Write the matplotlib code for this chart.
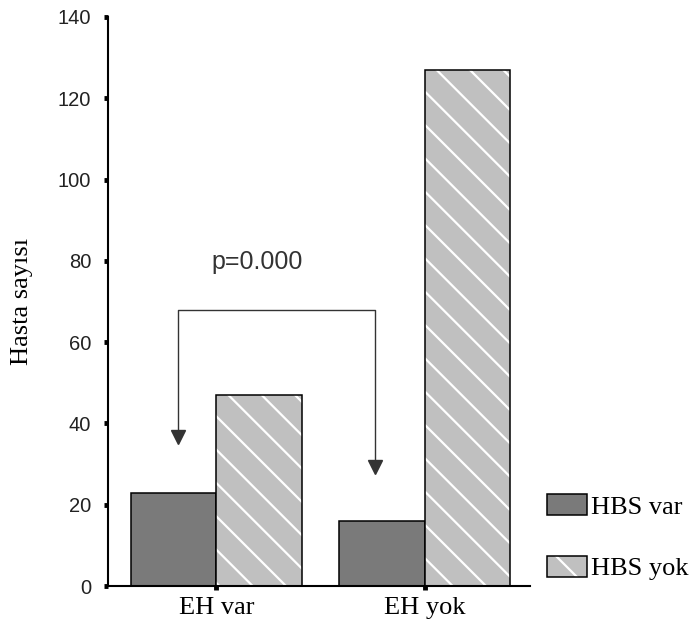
import matplotlib
matplotlib.use("Agg")
import matplotlib.pyplot as plt
from matplotlib.patches import Patch
from matplotlib.legend_handler import HandlerTuple

categories = ["EH var", "EH yok"]
hbs_var = [23, 16]
hbs_yok = [47, 127]
series_labels = ["HBS var", "HBS yok"]
y_ticks = [0, 20, 40, 60, 80, 100, 120, 140]
p_text = "p=0.000"

plt.rcParams["hatch.color"] = "white"
plt.rcParams["hatch.linewidth"] = 1.6

fig = plt.figure(figsize=(6.98, 6.26), dpi=100)
ax = fig.add_axes([108/698, 1-586/626, 422/698, 569/626])

x = list(range(len(categories)))
w = 0.41
xv = [i - w/2 for i in x]
xy = [i + w/2 for i in x]

ax.bar(xv, hbs_var, width=w, color="#7a7a7a", edgecolor="black", linewidth=1.1, zorder=2)
ax.bar(xy, hbs_yok, width=w, color="#c0c0c0", hatch="\\", linewidth=0, zorder=2)
ax.bar(xy, hbs_yok, width=w, fill=False, edgecolor="black", linewidth=1.1, zorder=3)

ax.set_xlim(-0.52, 1.504)
ax.set_ylim(0, 140)
ax.set_yticks(y_ticks)
ax.set_xticks(x)
ax.set_xticklabels(categories, fontfamily="Liberation Serif", fontsize=19)
ax.tick_params(axis="x", length=3, width=3.5, pad=5, direction="out")
ax.tick_params(axis="y", length=3, width=3.5, pad=9, direction="out", labelsize=14.5)
for lab in ax.get_yticklabels():
    lab.set_fontfamily("Liberation Sans")
    lab.set_color("#222222")

for s in ["top", "right"]:
    ax.spines[s].set_visible(False)
ax.spines["left"].set_linewidth(1.5)
ax.spines["bottom"].set_linewidth(1.5)

ax.set_ylabel("Hasta sayısı", fontfamily="Liberation Serif", fontsize=19)
ax.yaxis.set_label_coords(-0.204, 0.5)
ax.yaxis.label.set_va("center")
ax.yaxis.label.set_ha("center")

# significance bracket
xl, xr, yb = -0.185, 0.76, 68
ax.plot([xl, xl, xr, xr], [37, yb, yb, 29.5], color="#333333", lw=1.0, zorder=4)
ax.plot([xl], [36.7], marker="v", markersize=10, color="#333333", zorder=4, clip_on=False)
ax.plot([xr], [29.4], marker="v", markersize=10, color="#333333", zorder=4, clip_on=False)
ax.text(0.197, 79.7, p_text, ha="center", va="center", fontfamily="Liberation Sans",
        fontsize=18, color="#333333")

h_var = Patch(facecolor="#7a7a7a", edgecolor="black", linewidth=1.1)
h_yok_fill = Patch(facecolor="#c0c0c0", hatch="\\", linewidth=0)
h_yok_edge = Patch(fill=False, edgecolor="black", linewidth=1.1)
fig.legend([h_var, (h_yok_fill, h_yok_edge)], series_labels,
           handler_map={tuple: HandlerTuple(ndivide=1, pad=0)},
           loc="upper left", bbox_to_anchor=(547/698, 1-494/626),
           frameon=False, borderpad=0, borderaxespad=0,
           handlelength=1.5, handleheight=0.83, handletextpad=0.15,
           labelspacing=1.42, prop={"family": "Liberation Serif", "size": 19})

fig.savefig("out.png", dpi=100, facecolor="white")
